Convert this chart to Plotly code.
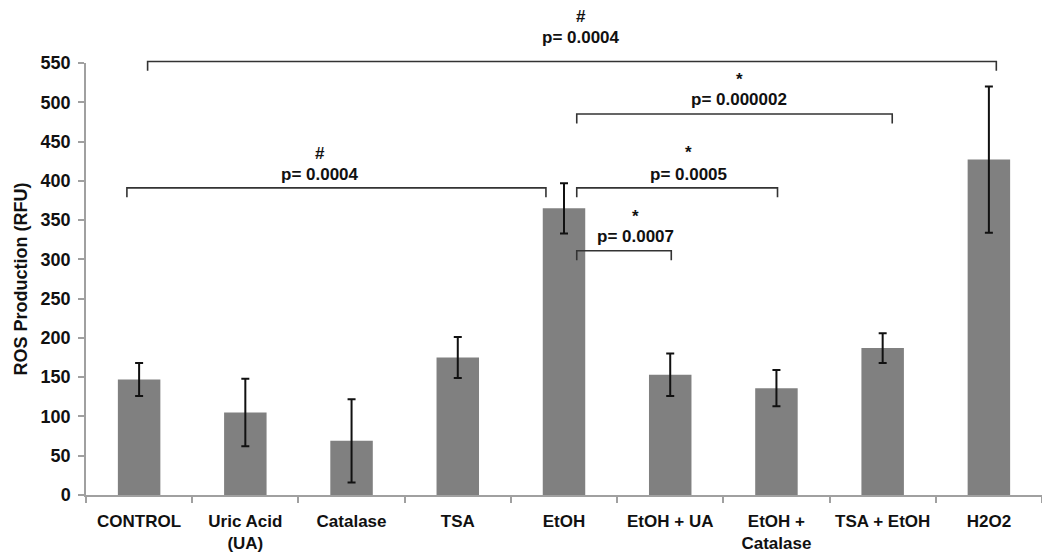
import plotly.graph_objects as go

categories = ["CONTROL", "Uric Acid<br>(UA)", "Catalase", "TSA", "EtOH",
              "EtOH + UA", "EtOH +<br>Catalase", "TSA + EtOH", "H2O2"]
means = [147, 105, 69, 175, 365, 153, 136, 187, 427]
errors = [21, 43, 53, 26, 32, 27, 23, 19, 93]

# significance comparisons: (symbol, p-value text)
sig_symbols = ["#", "#", "*", "*", "*"]
sig_pvalues = ["p= 0.0004", "p= 0.0004", "p= 0.000002", "p= 0.0005", "p= 0.0007"]

# bracket geometry (x in category index units, y in data units)
br_x0 = [0.08, -0.115, 4.12, 4.12, 4.12]
br_x1 = [8.07, 3.83, 7.09, 6.01, 5.01]
br_y = [552, 391, 485, 391, 311]
br_drop = 12
txt_x = [4.16, 1.70, 5.65, 5.17, 4.67]
sym_y = [609, 435, 529, 436, 355]
p_y = [583, 408, 503, 408, 329]

YMAX = 550
FONT = "Liberation Sans, Arial, sans-serif"

fig = go.Figure()
fig.add_trace(go.Bar(
    x=list(range(len(categories))), y=means,
    marker=dict(color="#808080", line=dict(width=0)),
    width=0.4,
    error_y=dict(type="data", array=errors, visible=True,
                 color="#111111", thickness=2, width=4),
))

def yp(v):
    return v / YMAX

shapes = []
annotations = []
for i in range(len(sig_symbols)):
    x0, x1, y = br_x0[i], br_x1[i], br_y[i]
    path = (f"M {x0} {yp(y - br_drop)} L {x0} {yp(y)} L {x1} {yp(y)} L {x1} {yp(y - br_drop)}")
    shapes.append(dict(type="path", xref="x", yref="paper", path=path,
                       line=dict(color="#333333", width=1.6)))
    annotations.append(dict(x=txt_x[i], y=yp(sym_y[i]), xref="x", yref="paper",
                            text=f"<b>{sig_symbols[i]}</b>", showarrow=False,
                            font=dict(size=17, color="#111111", family=FONT),
                            xanchor="center", yanchor="middle"))
    annotations.append(dict(x=txt_x[i], y=yp(p_y[i]), xref="x", yref="paper",
                            text=f"<b>{sig_pvalues[i]}</b>", showarrow=False,
                            font=dict(size=17, color="#111111", family=FONT),
                            xanchor="center", yanchor="middle"))

fig.update_layout(
    width=1050, height=560,
    margin=dict(l=75, r=16, t=55, b=73),
    paper_bgcolor="white", plot_bgcolor="white",
    showlegend=False,
    bargap=0.6,
    font=dict(family=FONT, color="#111111"),
    shapes=shapes,
    annotations=annotations,
    xaxis=dict(
        range=[-0.5, 8.5],
        tickmode="array", tickvals=list(range(len(categories))),
        ticktext=[f"<b>{c}</b>" for c in categories],
        ticks="", showline=True, linecolor="#a0a0a0", linewidth=1.5,
        showgrid=False, zeroline=False, ticklabelstandoff=10,
        tickfont=dict(size=17, color="#111111", family=FONT),
    ),
    yaxis=dict(
        range=[0, YMAX], dtick=50, tick0=0,
        ticks="outside", ticklen=6, tickcolor="#a0a0a0", tickwidth=1.5,
        showline=True, linecolor="#a0a0a0", linewidth=1.5,
        showgrid=False, zeroline=False, ticklabelstandoff=4,
        tickfont=dict(size=18, color="#111111", family=FONT),
        tickprefix="<b>", ticksuffix="</b>",
        title=dict(text="<b>ROS Production (RFU)</b>",
                   font=dict(size=18, color="#111111", family=FONT), standoff=8),
    ),
)

# minor ticks at category boundaries on the x axis
fig.update_xaxes(minor=dict(tickmode="array",
                            tickvals=[i + 0.5 for i in range(-1, len(categories))],
                            ticks="outside", ticklen=6, tickcolor="#a0a0a0", tickwidth=1.5))

fig.write_html("out.html")
